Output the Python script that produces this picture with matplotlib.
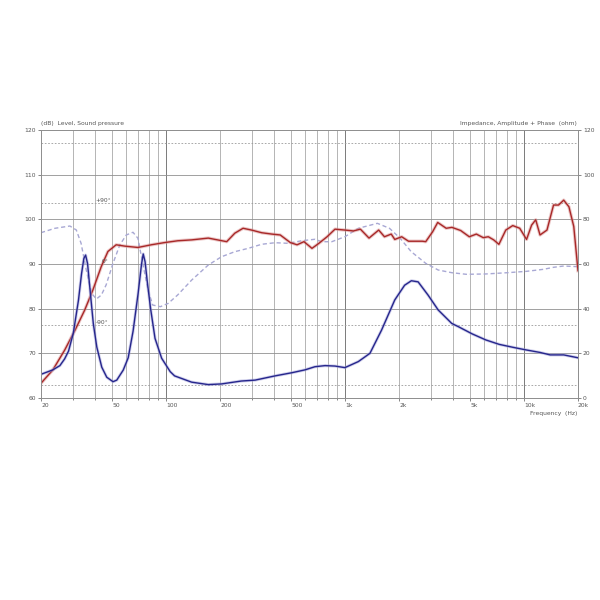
import matplotlib
matplotlib.use("Agg")
import matplotlib.pyplot as plt
from matplotlib.ticker import FixedLocator, NullFormatter

# SPL, dB (left axis)
spl_freq = [20, 23.3, 27.1, 31, 35.1, 39, 43.4, 47.3, 52.6, 58.8, 69.6, 82.6, 98.2, 116,
            139, 172, 218, 242, 269, 300, 342, 389, 434, 494, 539, 589, 653,
            712, 793, 878, 997, 1113, 1217, 1360, 1540, 1659, 1810, 1894, 2070, 2260,
            2700, 2820, 3080, 3290, 3670, 3950, 4420, 4940, 5410, 5910, 6310, 6760,
            7230, 7900, 8640, 9450, 10320, 11010, 11610, 12270, 13420, 14600, 15580,
            16640, 17800, 18940, 20000]
spl_db = [63.3, 66.3, 70.7, 75.2, 79.7, 84.2, 89.4, 92.8, 94.3, 94.0, 93.7, 94.3, 94.8, 95.2,
          95.4, 95.8, 95.0, 96.9, 98.0, 97.6, 97.0, 96.7, 96.5, 94.8, 94.3, 95.0, 93.5,
          94.6, 96.1, 97.8, 97.6, 97.4, 97.8, 95.8, 97.6, 96.1, 96.7, 95.5, 96.1, 95.1,
          95.1, 95.0, 97.2, 99.3, 98.0, 98.2, 97.5, 96.1, 96.7, 95.9, 96.1, 95.4,
          94.4, 97.6, 98.6, 98.0, 95.5, 98.7, 99.9, 96.5, 97.6, 103.2, 103.2,
          104.3, 102.8, 98.4, 88.5]

# impedance magnitude, ohm (right axis)
imp_freq = [20, 23.3, 25.5, 27.1, 28.5, 30.3, 32.4, 33.7, 34.7, 35.5, 36.4, 37.6, 39.2,
            41.0, 43.7, 46.6, 50.5, 53.0, 57.6, 61.4, 65.4, 69.8, 72.9, 74.5, 76.3,
            78.5, 81.9, 86.7, 94.4, 105.4, 111.5, 138.8, 171.9, 204,
            263, 314, 406, 503, 597, 678, 772, 878, 997, 1185, 1376, 1598, 1894,
            2150, 2345, 2558, 2911, 3312, 3940, 4300, 5130, 6110, 7270, 8660, 10300,
            12270, 13970, 16640, 20000]
imp_ohm = [10.6, 12.6, 14.5, 17.5, 21.0, 29.0, 43.9, 55.7, 62.4, 64.0, 60.2, 48.3, 33.3,
           22.8, 13.8, 9.3, 7.3, 8.0, 12.5, 18.0, 30.0, 47.0, 60.0, 64.5, 61.0,
           52.0, 40.0, 26.7, 17.8, 11.8, 9.9, 7.1, 6.0, 6.3,
           7.6, 8.0, 9.9, 11.3, 12.6, 14.0, 14.5, 14.3, 13.6, 16.3, 20.0, 30.4, 43.9,
           50.5, 52.5, 52.0, 46.0, 39.4, 33.4, 31.9, 28.7, 26.0, 24.0, 22.7, 21.5,
           20.4, 19.3, 19.3, 18.0]

# impedance phase, degrees
ph_freq = [20, 23.9, 29.0, 31.5, 33.5, 35.8, 38.3, 40.8, 43.5, 46.2, 50.5, 55.1, 59.9,
           65.3, 69.6, 74.0, 79.3, 84.1, 92.9, 102.8, 116, 139, 172, 204, 242, 288,
           342, 406, 484, 572, 678, 740, 842, 997, 1185, 1514, 1770, 2030, 2340,
           2820, 3310, 3940, 4750, 6110, 8080, 10300, 12820, 14600, 16640, 20000]
ph_deg = [46.5, 53.0, 56.4, 50.5, 30.7, -8.9, -43.5, -52.0, -46.0, -31.2, 1.0, 28.2, 43.1,
          47.1, 38.2, 1.0, -38.6, -60.9, -63.4, -58.4, -46.0, -23.8, -1.5, 10.8, 18.3, 23.3,
          29.3, 31.6, 30.7, 34.6, 36.7, 33.1, 33.1, 40.5, 53.0, 60.4, 53.0, 38.2, 18.3,
          1.0, -8.9, -12.9, -15.3, -14.8, -12.9, -10.9, -7.9, -4.9, -3.0, -4.0]

x_ticks = [20, 50, 100, 200, 500, 1000, 2000, 5000, 10000, 20000]
x_labels = ['20', '50', '100', '200', '500', '1k', '2k', '5k', '10k', '20k']

grid_c = '#a8a8a8'
txt_c = '#555555'
fs = 4.3

fig = plt.figure(figsize=(6, 6), dpi=100)
ax = fig.add_axes([41 / 600, 202 / 600, 537 / 600, 268 / 600])
ax.set_xscale('log')
ax.set_xlim(20, 20000)
ax.set_ylim(60, 120)

# vertical grid: every 1..9 multiple, decades darker
minor = [m * d for d in (10, 100, 1000, 10000) for m in range(1, 10) if 20 <= m * d <= 20000]
for f in minor:
    dec = f in (100, 1000, 10000)
    ax.axvline(f, color='#7a7a7a' if dec else grid_c, lw=0.7 if dec else 0.6, zorder=0)
for y in range(70, 120, 10):
    ax.axhline(y, color='#909090', lw=0.6, zorder=0)

ax.set_xticks(x_ticks)
ax.set_xticklabels(x_labels)
ax.xaxis.set_minor_locator(FixedLocator(minor))
ax.xaxis.set_minor_formatter(NullFormatter())
for lab in ax.get_xticklabels():
    lab.set_horizontalalignment('left')
ax.set_yticks(range(60, 121, 10))
ax.tick_params(axis='both', which='both', labelsize=fs, colors=txt_c, length=2, width=0.5, pad=1.5)
ax.tick_params(axis='x', which='minor', length=1.5)

# phase axis (hidden)
ax3 = ax.twinx()
ax3.set_ylim(-199, 199)
ax3.axis('off')
for p in (-180, -90, 90, 180):
    ax3.axhline(p, color='#9a9a9a', lw=0.6, ls=(0, (2, 2)), zorder=0)
ax3.plot(ph_freq, ph_deg, color='#a8a8d4', lw=1.0, ls=(0, (3, 2)))

# SPL curve with a soft halo
ax4 = ax.twinx()
ax4.set_ylim(60, 120)
ax4.axis('off')
ax4.plot(spl_freq, spl_db, color='#d89090', lw=2.4, alpha=0.5)
ax4.plot(spl_freq, spl_db, color='#a82828', lw=1.0)

# impedance axis on the right
ax2 = ax.twinx()
ax2.set_ylim(0, 120)
ax2.set_yticks(range(0, 121, 20))
ax2.tick_params(axis='y', labelsize=fs, colors=txt_c, length=2, width=0.5, pad=1.5)
ax2.plot(imp_freq, imp_ohm, color='#a0a0d8', lw=2.2, alpha=0.5)
ax2.plot(imp_freq, imp_ohm, color='#26268c', lw=1.0)

for a in (ax, ax2):
    for s in a.spines.values():
        s.set_color('#909090')
        s.set_linewidth(0.7)

# phase labels, drawn on top
fig.text(95 / 600, 1 - 201 / 600, '+90°', fontsize=fs, color=txt_c, va='center', zorder=10)
fig.text(96 / 600, 1 - 322 / 600, '-90°', fontsize=fs, color=txt_c, va='center', zorder=10)
fig.text(102 / 600, 1 - 261 / 600, '0°', fontsize=fs, color=txt_c, va='center', zorder=10)

fig.text(41 / 600, 1 - 123 / 600, '(dB)  Level, Sound pressure', fontsize=fs, color=txt_c,
         ha='left', va='center')
fig.text(577 / 600, 1 - 123 / 600, 'Impedance, Amplitude + Phase  (ohm)', fontsize=fs,
         color=txt_c, ha='right', va='center')
fig.text(577 / 600, 1 - 413 / 600, 'Frequency  (Hz)', fontsize=fs, color=txt_c,
         ha='right', va='center')

fig.savefig('out.png', dpi=100, facecolor='white')
